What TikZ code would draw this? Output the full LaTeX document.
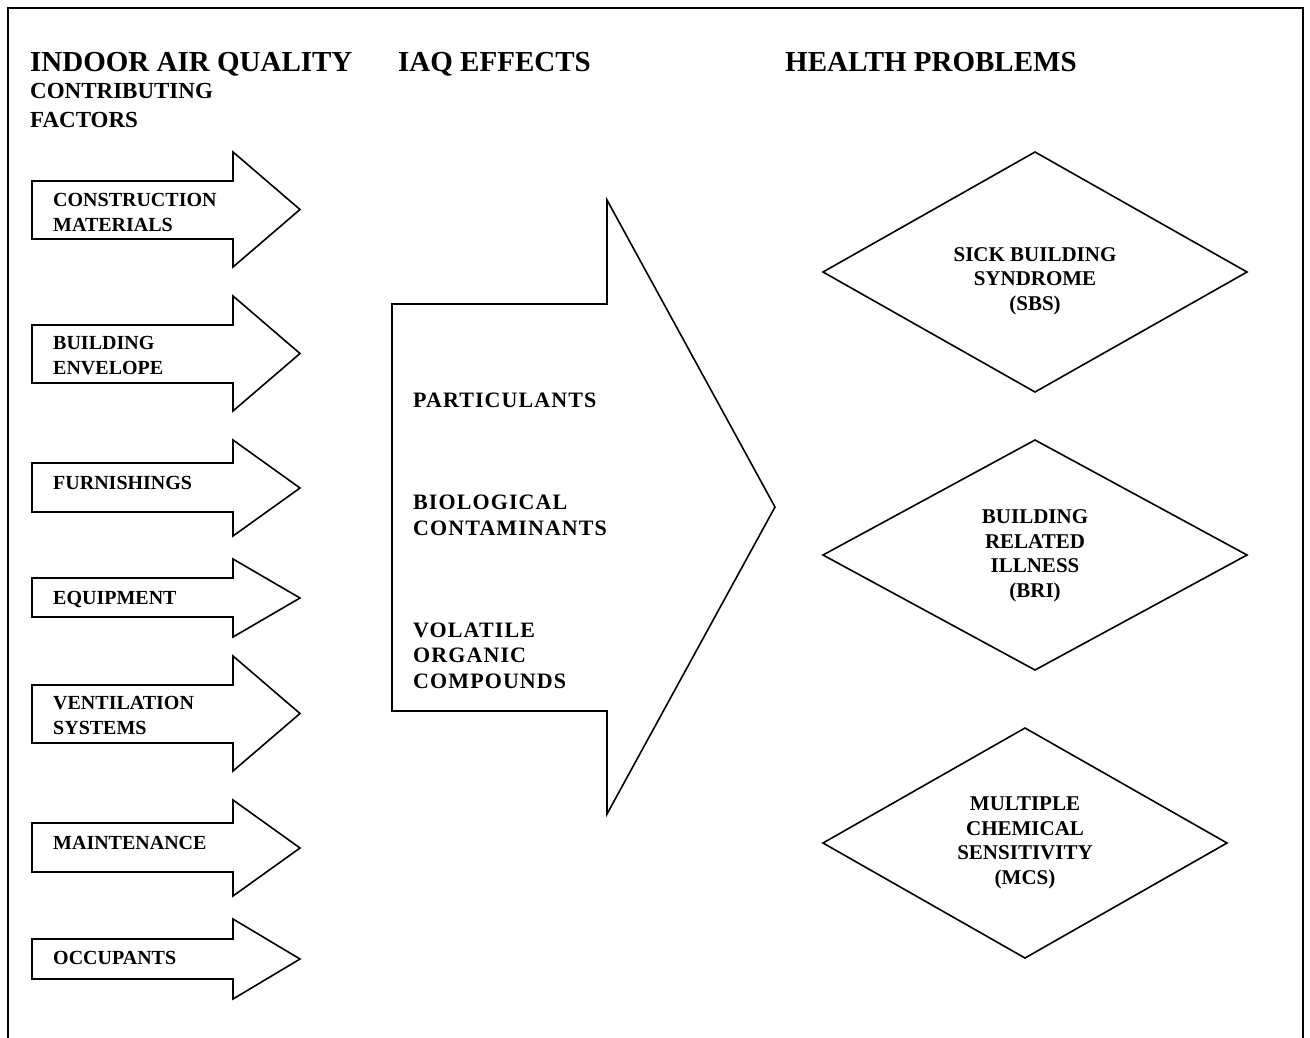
\documentclass[tikz,border=0pt]{standalone}
\usepackage{fontspec}
\setmainfont{Liberation Serif}[BoldFont={Liberation Serif Bold}]
\newfontfamily\spacedfont{Liberation Serif Bold}[LetterSpace=5]
\tikzset{
  outline/.style={draw, line width=1.6pt, line join=miter},
  lbl/.style={anchor=base west, inner sep=0pt, align=left, font=\bfseries\fontsize{20}{24.5}\selectfont},
  effect/.style={anchor=base west, inner sep=0pt, align=left, font=\spacedfont\fontsize{22}{25.5}\selectfont},
  dtext/.style={anchor=base, inner sep=0pt, align=center, font=\bfseries\fontsize{21}{24.5}\selectfont},
  head/.style={anchor=base west, inner sep=0pt, font=\bfseries\fontsize{29}{34}\selectfont},
  subhead/.style={anchor=base west, inner sep=0pt, align=left, font=\bfseries\fontsize{23}{29}\selectfont}
}
% small arrow: #1 shaft top, #2 shaft bottom, #3 head top, #4 head bottom
\newcommand\FactorArrow[4]{%
  \draw[outline] (32,#1) -- (233,#1) -- (233,#3) -- (300,{(#3+#4)/2}) -- (233,#4) -- (233,#2) -- (32,#2) -- cycle;}
\newcommand\Rhomb[5]{% left, right, top, bottom, mid y
  \draw[outline] (#1,#5) -- ({(#1+#2)/2},#3) -- (#2,#5) -- ({(#1+#2)/2},#4) -- cycle;}
\begin{document}
\begin{tikzpicture}[x=1pt,y=-1pt]
\useasboundingbox (0,0) rectangle (1310,1037);
% frame (open at the bottom)
\draw[line width=1.8pt] (8,1040) -- (8,8) -- (1303,8) -- (1303,1040);

% headers
\node[head] (h1) at (30,71) {INDOOR AIR QUALITY};
\node[subhead] (h1b) at (30,127) {CONTRIBUTING\\FACTORS};
\node[head] (h2) at (398,71) {IAQ EFFECTS};
\node[head] (h3) at (785,71) {HEALTH PROBLEMS};

% factor arrows
\FactorArrow{181}{239}{152}{267}
\FactorArrow{325}{383}{296}{411}
\FactorArrow{463}{512}{440}{536}
\FactorArrow{578}{617}{559}{637}
\FactorArrow{685}{743}{656}{771}
\FactorArrow{823}{872}{800}{896}
\FactorArrow{939}{979}{919}{999}
\node[lbl] (f1) at (53,231) {CONSTRUCTION\\MATERIALS};
\node[lbl] (f2) at (53,374) {BUILDING\\ENVELOPE};
\node[lbl] (f3) at (53,489) {FURNISHINGS};
\node[lbl] (f4) at (53,604) {EQUIPMENT};
\node[lbl] (f5) at (53,734) {VENTILATION\\SYSTEMS};
\node[lbl] (f6) at (53,849) {MAINTENANCE};
\node[lbl] (f7) at (53,964) {OCCUPANTS};

% big arrow
\draw[outline] (392,304) -- (607,304) -- (607,200) -- (775,507) -- (607,814) -- (607,711) -- (392,711) -- cycle;
\node[effect] (e1) at (413,407) {PARTICULANTS};
\node[effect] (e2) at (413,535) {BIOLOGICAL\\CONTAMINANTS};
\node[effect] (e3) at (413,688) {VOLATILE\\ORGANIC\\COMPOUNDS};

% diamonds
\Rhomb{823}{1247}{152}{392}{272}
\Rhomb{823}{1247}{440}{670}{555}
\Rhomb{823}{1227}{728}{958}{843}
\node[dtext] (d1) at (1035,310) {SICK BUILDING\\SYNDROME\\(SBS)};
\node[dtext] (d2) at (1035,597) {BUILDING\\RELATED\\ILLNESS\\(BRI)};
\node[dtext] (d3) at (1025,884) {MULTIPLE\\CHEMICAL\\SENSITIVITY\\(MCS)};
\end{tikzpicture}
\end{document}
